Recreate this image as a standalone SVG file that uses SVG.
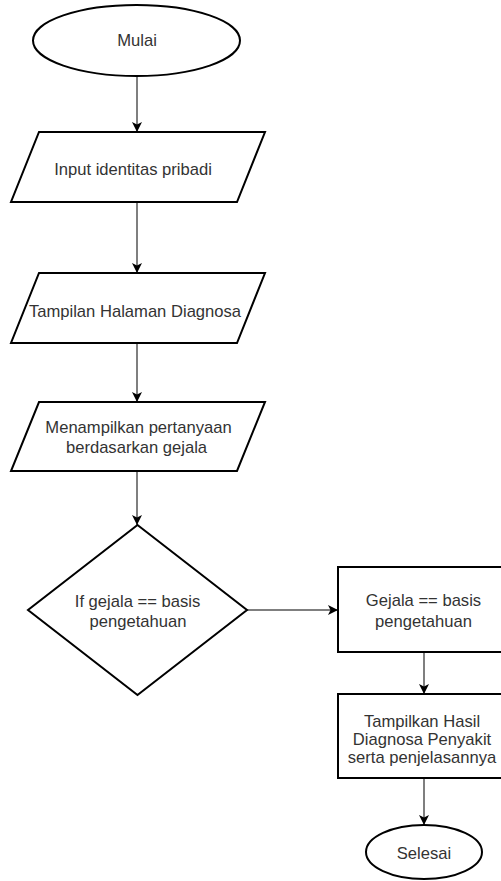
<svg xmlns="http://www.w3.org/2000/svg" width="501" height="881" viewBox="0 0 501 881">
<style>
.s{fill:#fff;stroke:#000;stroke-width:2}
.t{font-family:"Liberation Sans",Arial,sans-serif;font-size:16.6px;fill:#333;text-anchor:middle}
.c{fill:none;stroke:#555;stroke-width:1.5}
</style>
<defs>
<marker id="ah" viewBox="0 0 10 10" refX="10" refY="5" markerWidth="10" markerHeight="10" markerUnits="userSpaceOnUse" orient="auto">
<path d="M0,0 L10,5 L0,10 L2.5,5 Z" fill="#000"/>
</marker>
</defs>
<rect width="501" height="881" fill="#fff"/>
<g id="connectors">
<line class="c" x1="137" y1="76" x2="137" y2="132" marker-end="url(#ah)"/>
<line class="c" x1="137" y1="202" x2="137" y2="273" marker-end="url(#ah)"/>
<line class="c" x1="137" y1="343" x2="137" y2="402" marker-end="url(#ah)"/>
<line class="c" x1="137" y1="471" x2="137" y2="525" marker-end="url(#ah)"/>
<line class="c" x1="247" y1="610" x2="338" y2="610" marker-end="url(#ah)"/>
<line class="c" x1="424" y1="652" x2="424" y2="694" marker-end="url(#ah)"/>
<line class="c" x1="424" y1="778" x2="424" y2="825" marker-end="url(#ah)"/>
</g>
<g id="mulai">
<ellipse class="s" cx="136.5" cy="40.5" rx="103.5" ry="35.5"/>
<text class="t" x="137" y="46">Mulai</text>
</g>
<g id="input">
<polygon class="s" points="39,132 265,132 237,202 11,202"/>
<text class="t" x="133" y="175">Input identitas pribadi</text>
</g>
<g id="tampilan">
<polygon class="s" points="39,273 265,273 237,343 11,343"/>
<text class="t" x="135" y="317">Tampilan Halaman Diagnosa</text>
</g>
<g id="menampilkan">
<polygon class="s" points="39,402 265,402 237,471 11,471"/>
<text class="t" x="138.5" y="433">Menampilkan pertanyaan</text>
<text class="t" x="136.5" y="453">berdasarkan gejala</text>
</g>
<g id="decision">
<polygon class="s" points="137.5,525 247,610 137.5,695 28,610"/>
<text class="t" x="137.5" y="607">If gejala == basis</text>
<text class="t" x="138" y="627">pengetahuan</text>
</g>
<g id="gejala">
<rect class="s" x="338" y="567" width="172" height="85"/>
<text class="t" x="423.5" y="606">Gejala == basis</text>
<text class="t" x="423.5" y="627">pengetahuan</text>
</g>
<g id="hasil">
<rect class="s" x="338" y="694" width="172" height="84"/>
<text class="t" x="422" y="727">Tampilkan Hasil</text>
<text class="t" x="422" y="745">Diagnosa Penyakit</text>
<text class="t" x="422" y="763">serta penjelasannya</text>
</g>
<g id="selesai">
<ellipse class="s" cx="424" cy="852" rx="58" ry="27"/>
<text class="t" x="424" y="859">Selesai</text>
</g>
</svg>
